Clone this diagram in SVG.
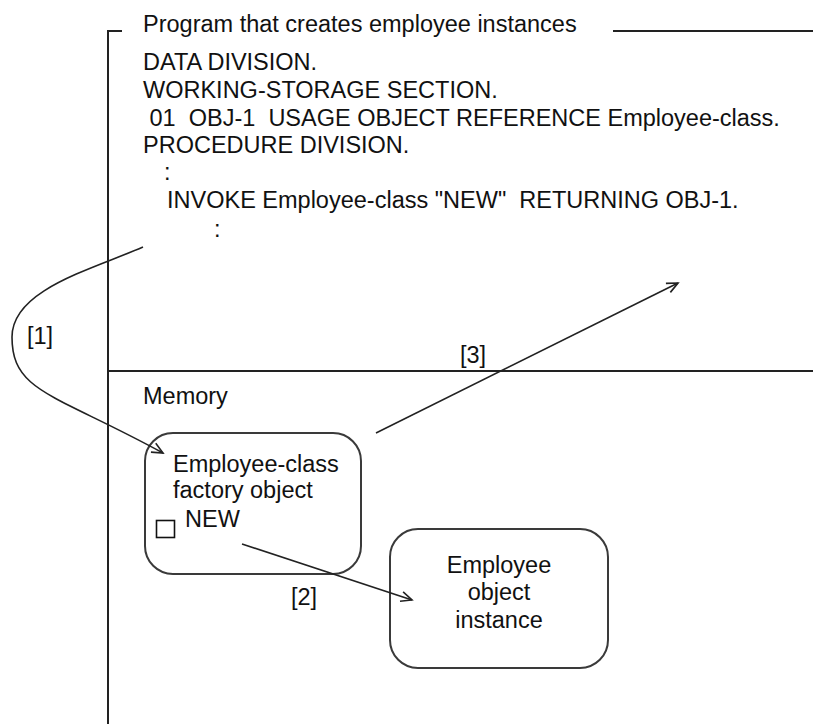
<svg xmlns="http://www.w3.org/2000/svg" width="813" height="724" viewBox="0 0 813 724">
<style>
  text { font-family: "Liberation Sans", Arial, sans-serif; font-size: 23.5px; fill: #111; white-space: pre; }
  .frame { stroke: #222; stroke-width: 2; fill: none; }
  .box { stroke: #3a3a3a; stroke-width: 2; fill: #fff; }
  .conn { stroke: #222; stroke-width: 1.6; fill: none; marker-end: url(#arrow); }
  .mid { text-anchor: middle; }
</style>
<defs>
  <marker id="arrow" markerUnits="userSpaceOnUse" markerWidth="16" markerHeight="14" viewBox="-12 -7 14 14" refX="0" refY="0" orient="auto">
    <path d="M-11,-5 L0,0 L-11,5" fill="none" stroke="#222" stroke-width="1.6"/>
  </marker>
</defs>
<rect width="813" height="724" fill="#fff"/>

<g id="frame">
  <path class="frame" d="M122,31 H108 V724"/>
  <path class="frame" d="M613,31 H813"/>
  <path class="frame" d="M108,371 H813"/>
</g>

<g id="program">
  <text x="143" y="32">Program that creates employee instances</text>
  <text x="143" y="70">DATA DIVISION.</text>
  <text x="143" y="98">WORKING-STORAGE SECTION.</text>
  <text x="143" y="126" xml:space="preserve"> 01  OBJ-1  USAGE OBJECT REFERENCE Employee-class.</text>
  <text x="143" y="153">PROCEDURE DIVISION.</text>
  <text x="164" y="180">:</text>
  <text x="167" y="208" xml:space="preserve">INVOKE Employee-class "NEW"  RETURNING OBJ-1.</text>
  <text x="214" y="237">:</text>
</g>

<g id="memory">
  <text x="143" y="404">Memory</text>
</g>

<g id="factory-object">
  <rect class="box" x="145" y="433" width="216" height="141" rx="28" ry="28"/>
  <text x="173" y="472">Employee-class</text>
  <text x="173" y="498">factory object</text>
  <text x="185" y="527">NEW</text>
  <rect x="156.5" y="520.5" width="18" height="17" fill="#fff" stroke="#111" stroke-width="1.6"/>
</g>

<g id="employee-instance">
  <rect class="box" x="390" y="529" width="218" height="139" rx="28" ry="28"/>
  <text class="mid" x="499" y="573">Employee</text>
  <text class="mid" x="499" y="600">object</text>
  <text class="mid" x="499" y="628">instance</text>
</g>

<g id="connectors">
  <path class="conn" d="M143,247 C90,270 12,290 12,337 C12,392 53,393 163,453"/>
  <path class="conn" d="M242,544 L412,600"/>
  <path class="conn" d="M376,433 L678,283"/>
</g>

<g id="labels">
  <text x="27" y="344">[1]</text>
  <text x="291" y="605">[2]</text>
  <text x="460" y="363">[3]</text>
</g>
</svg>
